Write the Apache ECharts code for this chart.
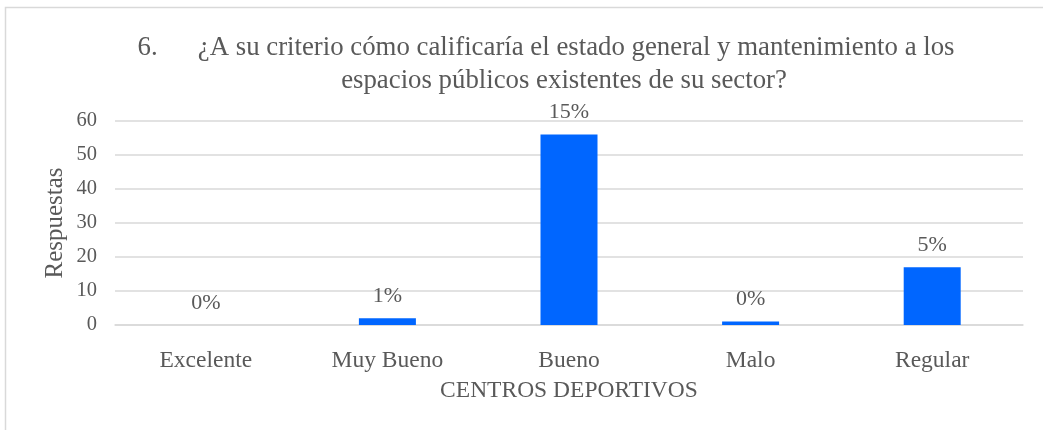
<!DOCTYPE html>
<html>
<head>
<meta charset="utf-8">
<script src="https://cdn.jsdelivr.net/npm/echarts@6/dist/echarts.min.js"></script>
<style>
  html, body { margin: 0; padding: 0; background: #fff; }
  #chart { width: 1043px; height: 430px; }
</style>
</head>
<body>
<div id="chart"></div>
<script>
const titleLine1 = "6.      ¿A su criterio cómo calificaría el estado general y mantenimiento a los";
const titleLine2 = "espacios públicos existentes de su sector?";
const categories = ["Excelente", "Muy Bueno", "Bueno", "Malo", "Regular"];
const respuestas = [0, 2, 56, 1, 17];
const porcentajes = ["0%", "1%", "15%", "0%", "5%"];
const yTicks = { min: 0, max: 60, interval: 10 };
const xAxisName = "CENTROS DEPORTIVOS";
const yAxisName = "Respuestas";

const FONT = "'Liberation Serif', 'Times New Roman', serif";
const TXT = "#595959";

const chart = echarts.init(document.getElementById('chart'), null, { renderer: 'canvas' });
chart.setOption({
  animation: false,
  backgroundColor: '#ffffff',
  graphic: [{
    type: 'rect',
    shape: { x: 5.5, y: 7.5, width: 1100, height: 500 },
    style: { fill: 'none', stroke: '#d9d9d9', lineWidth: 1.5 },
    silent: true
  }],
  title: [
    { text: titleLine1, left: 541, top: 29, textAlign: 'center',
      textStyle: { fontFamily: FONT, fontSize: 26.8, fontWeight: 'normal', color: TXT } },
    { text: titleLine2, left: 559, top: 62, textAlign: 'center',
      textStyle: { fontFamily: FONT, fontSize: 26.8, fontWeight: 'normal', color: TXT } }
  ],
  grid: { left: 115, right: 20, top: 121, bottom: 105, containLabel: false },
  xAxis: {
    type: 'category',
    data: categories,
    name: xAxisName,
    nameLocation: 'middle',
    nameGap: 54,
    nameTextStyle: { fontFamily: FONT, fontSize: 23.5, color: TXT },
    axisLine: { show: true, lineStyle: { color: '#d9d9d9', width: 1.5 } },
    axisTick: { show: false },
    axisLabel: { fontFamily: FONT, fontSize: 23.5, color: TXT, margin: 24, interval: 0 }
  },
  yAxis: {
    type: 'value',
    min: yTicks.min, max: yTicks.max, interval: yTicks.interval,
    name: yAxisName,
    nameLocation: 'middle',
    nameGap: 47,
    nameRotate: 90,
    nameMoveOverlap: false,
    nameTextStyle: { fontFamily: FONT, fontSize: 25, color: TXT },
    axisLine: { show: false },
    axisTick: { show: false },
    axisLabel: { fontFamily: FONT, fontSize: 20.5, color: TXT, margin: 18 },
    splitLine: { lineStyle: { color: '#d9d9d9', width: 1.5 } }
  },
  series: [{
    type: 'bar',
    data: respuestas,
    barWidth: 57,
    itemStyle: { color: '#0066ff' },
    label: {
      show: true,
      position: 'top',
      distance: 11,
      fontFamily: FONT,
      fontSize: 22,
      color: TXT,
      formatter: p => porcentajes[p.dataIndex]
    }
  }]
});
</script>
</body>
</html>
